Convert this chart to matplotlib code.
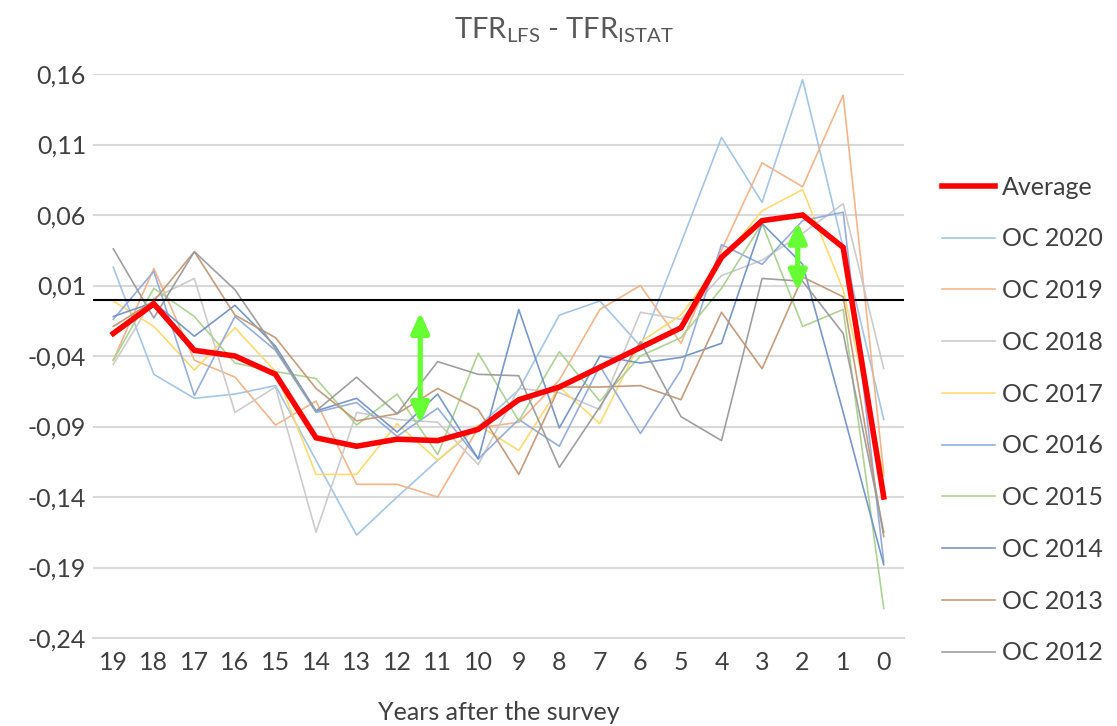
import matplotlib
matplotlib.use("Agg")
from matplotlib import pyplot as plt
import numpy as np

plt.rcParams['font.family'] = ['Lato', 'DejaVu Sans']
plt.rcParams['mathtext.fontset'] = 'custom'
plt.rcParams['mathtext.rm'] = 'Lato'

# years after the survey, read left to right
x_labels = [str(v) for v in range(19, -1, -1)]

average = [-0.024, -0.003, -0.036, -0.040, -0.053, -0.098, -0.104, -0.099, -0.100, -0.092,
           -0.071, -0.062, -0.048, -0.034, -0.020, 0.030, 0.056, 0.060, 0.037, -0.140]
oc2020 = [0.023, -0.053, -0.070, -0.067, -0.061, -0.114, -0.167, -0.140, -0.114, -0.090,
          -0.064, -0.011, -0.001, -0.033, 0.040, 0.115, 0.069, 0.156, 0.037, -0.085]
oc2019 = [-0.043, 0.022, -0.043, -0.055, -0.089, -0.072, -0.131, -0.131, -0.140, -0.091,
          -0.087, -0.057, -0.007, 0.010, -0.031, 0.035, 0.097, 0.080, 0.145, -0.123]
oc2018 = [-0.046, 0.001, 0.015, -0.080, -0.062, -0.165, -0.080, -0.085, -0.087, -0.117,
          -0.063, -0.066, -0.078, -0.009, -0.014, 0.017, 0.028, 0.047, 0.068, -0.049]
oc2017 = [-0.001, -0.019, -0.050, -0.020, -0.051, -0.124, -0.124, -0.088, -0.114, -0.089,
          -0.107, -0.062, -0.088, -0.030, -0.011, 0.028, 0.063, 0.078, 0.007, -0.125]
oc2016 = [-0.014, 0.020, -0.068, -0.012, -0.036, -0.080, -0.073, -0.097, -0.077, -0.113,
          -0.085, -0.104, -0.047, -0.095, -0.050, 0.039, 0.025, 0.056, 0.062, -0.186]
oc2015 = [-0.043, 0.008, -0.012, -0.045, -0.051, -0.056, -0.089, -0.067, -0.110, -0.038,
          -0.086, -0.037, -0.072, -0.040, -0.027, 0.008, 0.054, -0.019, -0.007, -0.219]
oc2014 = [-0.012, -0.002, -0.026, -0.004, -0.033, -0.079, -0.070, -0.094, -0.067, -0.113,
          -0.007, -0.091, -0.040, -0.045, -0.041, -0.031, 0.054, 0.025, -0.080, -0.188]
oc2013 = [-0.019, -0.001, 0.034, -0.011, -0.027, -0.063, -0.086, -0.081, -0.063, -0.078,
          -0.124, -0.062, -0.062, -0.061, -0.071, -0.009, -0.049, 0.016, 0.002, -0.168]
oc2012 = [0.036, -0.013, 0.034, 0.007, -0.035, -0.079, -0.055, -0.081, -0.044, -0.053,
          -0.054, -0.119, -0.076, -0.030, -0.083, -0.100, 0.015, 0.013, -0.024, -0.165]

series_names = ['OC 2020', 'OC 2019', 'OC 2018', 'OC 2017', 'OC 2016',
                'OC 2015', 'OC 2014', 'OC 2013', 'OC 2012']
series_values = [oc2020, oc2019, oc2018, oc2017, oc2016, oc2015, oc2014, oc2013, oc2012]
series_colors = ['#9DC3E6', '#F4B183', '#C9C9C9', '#FFD966', '#8FAADC',
                 '#A9D18E', '#6F93C8', '#C39673', '#9A9A9A']

# green double arrows: (x position in category units, y from, y to)
arrow_x = [7.57, 16.88]
arrow_y0 = [-0.088, 0.006]
arrow_y1 = [-0.009, 0.055]

yticks = [0.16, 0.11, 0.06, 0.01, -0.04, -0.09, -0.14, -0.19, -0.24]

fig = plt.figure(figsize=(11.17, 7.26), dpi=100)
ax = fig.add_axes([93 / 1117, 1 - 638 / 726, (904 - 93) / 1117, (638 - 74) / 726])

x = np.arange(len(x_labels))
handles = []
h, = ax.plot(x, average, color='#FF0000', lw=4.0, zorder=5, label='Average',
             solid_joinstyle='miter')
handles.append(h)
for name, vals, col in zip(series_names, series_values, series_colors):
    h, = ax.plot(x, vals, color=col, lw=1.2, alpha=0.95, zorder=3, label=name)
    handles.append(h)

ax.axhline(0, color='black', lw=1.5, zorder=4)

for xa, ya, yb in zip(arrow_x, arrow_y0, arrow_y1):
    ax.annotate('', xy=(xa, yb), xytext=(xa, ya),
                arrowprops=dict(arrowstyle='<|-|>,head_length=0.6,head_width=0.27',
                                mutation_scale=20, color='#66FF33', lw=3.8,
                                shrinkA=0, shrinkB=0), zorder=6)

ax.set_xlim(-0.5, len(x_labels) - 0.5)
ax.set_ylim(-0.24, 0.16)
ax.set_yticks(yticks)
ax.set_yticklabels([('%.2f' % t).replace('.', ',') for t in yticks])
ax.set_xticks(x)
ax.set_xticklabels(x_labels)
ax.tick_params(axis='both', length=0, labelsize=18, colors='#404040')
ax.tick_params(axis='y', pad=5)
ax.tick_params(axis='x', pad=9)
ax.grid(axis='y', color='#D9D9D9', lw=1.5, zorder=0)
for s in ['top', 'right', 'left']:
    ax.spines[s].set_visible(False)
ax.spines['bottom'].set_color('#D9D9D9')
ax.spines['bottom'].set_linewidth(1.5)

ax.set_xlabel('Years after the survey', fontsize=18, color='#404040', labelpad=20)

fig.text(0.505, 0.958, r'TFR$_{\mathrm{LFS}}$ - TFR$_{\mathrm{ISTAT}}$',
         ha='center', va='center', fontsize=21, color='#595959')

fig.legend(handles=handles, loc='center left', bbox_to_anchor=(942 / 1117, 1 - 420 / 726),
           frameon=False, fontsize=18, labelcolor='#404040', handlelength=2.1,
           handletextpad=0.3, labelspacing=1.15, borderpad=0, borderaxespad=0)

fig.savefig('out.png', dpi=100)
